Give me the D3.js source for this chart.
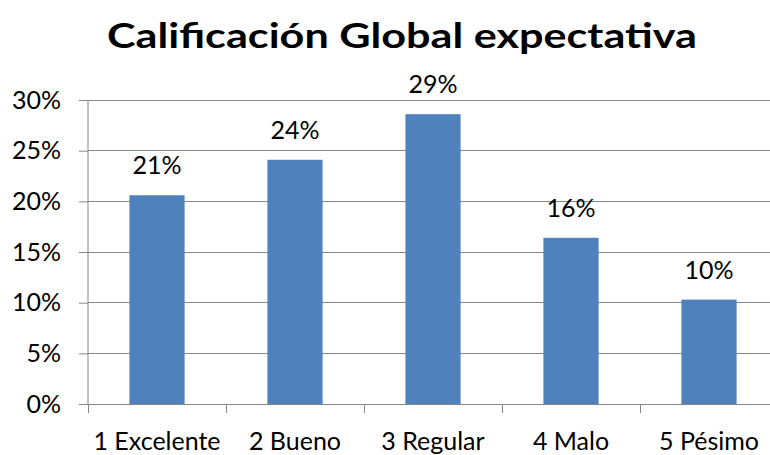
<!DOCTYPE html>
<html><head><meta charset="utf-8">
<script src="https://cdn.jsdelivr.net/npm/d3@7"></script>
<style>body{margin:0;background:#fff}svg{display:block}text{font-family:Lato,"Open Sans",sans-serif}</style>
</head><body><svg id="c" width="770" height="455"></svg>
<script>
const categories = ["1 Excelente","2 Bueno","3 Regular","4 Malo","5 Pésimo"];
const values = [0.206, 0.241, 0.286, 0.164, 0.103];
const yTicks = [0,0.05,0.10,0.15,0.20,0.25,0.30];
const title = "Calificación Global expectativa";

const svg = d3.select("#c");
const m = {left:88, top:100, right:778, bottom:404};
const x = d3.scaleBand().domain(categories).range([m.left, m.right]).paddingInner(0.6).paddingOuter(0.3);
const xb = d3.scaleBand().domain(categories).range([m.left, m.right]);
const y = d3.scaleLinear().domain([0,0.30]).range([m.bottom, m.top]);
const pct = d3.format(".0%");
const fs = "25px";

// gridlines
svg.append("g").selectAll("line").data(yTicks.slice(1)).join("line")
  .attr("x1", m.left).attr("x2", m.right).attr("y1", d=>y(d)).attr("y2", d=>y(d))
  .attr("stroke","#868686").attr("stroke-width",1).attr("shape-rendering","crispEdges");

// y axis
const ya = svg.append("g").attr("transform",`translate(${m.left},0)`)
  .call(d3.axisLeft(y).tickValues(yTicks).tickFormat(pct).tickSize(9).tickPadding(18));
ya.select(".domain").attr("stroke","#868686").attr("d",`M0,${m.top}V${m.bottom}`);
ya.selectAll(".tick line").attr("stroke","#868686");
ya.selectAll("text").attr("font-size",fs).attr("fill","#000").attr("font-family","Lato");

// bars
svg.append("g").selectAll("rect").data(values).join("rect")
  .attr("x",(d,i)=>x(categories[i])).attr("width",x.bandwidth())
  .attr("y",d=>y(d)).attr("height",d=>y(0)-y(d)).attr("fill","#4F81BD");

// x axis
const xa = svg.append("g").attr("transform",`translate(0,${m.bottom})`);
xa.append("line").attr("x1",m.left-9).attr("x2",m.right).attr("stroke","#868686").attr("shape-rendering","crispEdges");
xa.selectAll(".tk").data(categories).join("line").attr("class","tk")
  .attr("x1",d=>xb(d)+xb.bandwidth()).attr("x2",d=>xb(d)+xb.bandwidth())
  .attr("y1",0).attr("y2",9).attr("stroke","#868686").attr("shape-rendering","crispEdges");
xa.append("line").attr("x1",m.left).attr("x2",m.left).attr("y1",0).attr("y2",9).attr("stroke","#868686").attr("shape-rendering","crispEdges");
xa.selectAll("text").data(categories).join("text")
  .attr("x",d=>xb(d)+xb.bandwidth()/2).attr("y",46).attr("text-anchor","middle")
  .attr("font-size",fs).attr("fill","#000").text(d=>d);

// value labels
svg.append("g").selectAll("text").data(values).join("text")
  .attr("x",(d,i)=>x(categories[i])+x.bandwidth()/2).attr("y",d=>y(d)-21)
  .attr("text-anchor","middle").attr("font-size",fs).attr("fill","#000")
  .text(d=>pct(d));

// title
svg.append("text").attr("x",402).attr("y",48).attr("text-anchor","middle")
  .attr("font-size","34px").attr("font-weight","bold").attr("fill","#000")
  .attr("textLength",590).attr("lengthAdjust","spacingAndGlyphs").text(title);
</script></body></html>
